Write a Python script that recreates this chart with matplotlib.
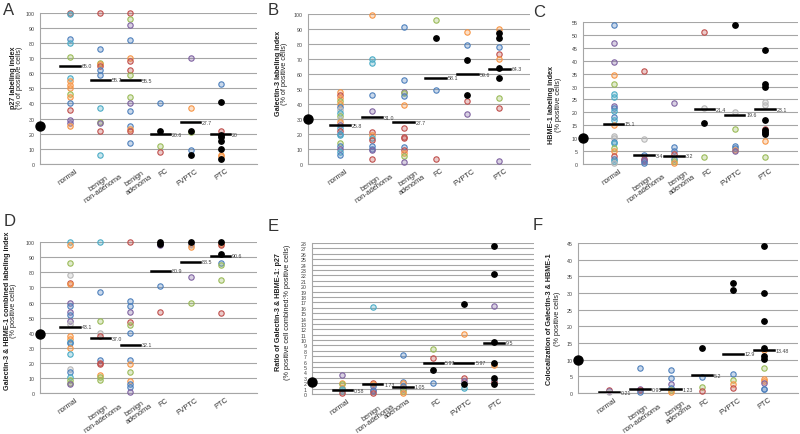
import matplotlib
matplotlib.use("Agg")
import matplotlib.pyplot as plt
import matplotlib.transforms as mtransforms
from matplotlib.colors import to_rgba

plt.rcParams['font.family'] = ['Liberation Sans', 'DejaVu Sans']

# colour codes used in the per-category colour strings
PALETTE = {"b": "#4F81BD", "r": "#C0504D", "g": "#9BBB59", "p": "#8064A2",
           "c": "#4BACC6", "o": "#F79646", "y": "#B8B8B8", "k": "#000000"}

CATS = ["normal", "benign\nnon-adenoma", "benign\nadenoma", "FC", "FVPTC", "PTC"]
CATS_E = ["normal", "benign\nnon-adenoma", "adenoma", "FC", "FVPTC", "PTC"]

# panel A: p27
A_VALUES = [[100, 99, 83, 80, 71, 57, 55, 52, 50, 46, 44, 40, 36, 29, 27, 25],
            [100, 76, 67, 66, 65, 62, 59, 37, 28, 27, 22, 6],
            [100, 96, 92, 82, 70, 68, 62, 59, 44, 40, 35, 25, 23, 22, 14],
            [40, 22, 12, 8],
            [70, 37, 22, 21, 9, 6],
            [53, 41, 22, 19, 18, 15, 10, 6, 5, 3]]
A_COLORS = ["rcbcgcooogobrppo", "rbgorbbcgprc", "rgpborrggpbborb", "bkgr", "pokgbk", "bkrkkkkook"]
A_MEANS = [65.0, 55.7, 55.5, 19.5, 27.7, 19.5]
A_LABELS = ["65.0", "55.7", "55.5", "20.6", "27.7", "20"]
A_REF = 25

# panel B: Galectin-3
B_VALUES = [[48, 46, 44, 42, 40, 38, 36, 34, 32, 30, 28, 26, 24, 22, 20, 19, 14, 12, 10, 8, 6],
            [99, 70, 67, 46, 35, 21, 19, 17, 16, 12, 10, 9, 3],
            [91, 56, 48, 47, 45, 39, 24, 18, 17, 11, 9, 7, 5, 1],
            [96, 84, 49, 3],
            [88, 79, 69, 46, 42, 33],
            [90, 87, 84, 78, 73, 70, 64, 57, 44, 37, 2]]
B_COLORS = ["orogobycgyopcrbcgbpcb", "occbprocrbbpr", "bbpgborrrbrogp", "gkbr", "obkkrp", "okkbrokkgrp"]
B_MEANS = [25.8, 31.0, 27.7, 57.5, 59.6, 63.5]
B_LABELS = ["25.8", "31.0", "27.7", "58.1", "59.6", "64.3"]
B_REF = 30

# panel C: HBME-1
C_VALUES = [[54, 47, 39.5, 34.5, 31, 27, 26, 22.5, 21.5, 20.5, 18, 17, 15, 11, 10, 8.5, 8, 6, 5, 3, 2, 1, 0.5],
            [36, 9.5, 3.5, 2, 1.5, 1, 0.5],
            [23.5, 6.5, 5, 4, 2, 1, 0.5],
            [51, 21.5, 16, 2.5],
            [54, 20, 13.5, 7, 6, 5.5, 5],
            [44, 31, 30, 24, 23, 17, 13.5, 13, 12.5, 12, 11.5, 9, 2.5]]
C_COLORS = ["bppogccpbcbcoyybcgorbcy", "rybrppb", "pbbrbgo", "rykg", "kygbbop", "kkkyykrkkbkog"]
C_MEANS = [15.6, 3.4, 3.2, 21.2, 19.0, 21.2]
C_LABELS = ["15.1", "3.4", "3.2", "21.4", "19.6", "23.1"]
C_REF = 10

# panel D: Galectin-3 & HBME-1 combined
D_VALUES = [[100, 98, 86, 78, 73, 72, 60, 58, 54, 52, 48, 46, 38, 36, 34, 33, 30, 26, 16, 14, 11, 9, 7, 6],
            [100, 67, 48, 40, 38, 22, 20, 19, 12, 11, 9],
            [100, 61, 58, 54, 47, 45, 40, 22, 19, 14, 8, 6, 4, 1],
            [100, 99, 98, 71, 54],
            [100, 99, 98, 97, 77, 60],
            [100, 99, 98, 92, 86, 85, 75, 53]]
D_COLORS = ["cogyropbpbpyoocbocybcggpb", "cbgyrbrrogg", "rbbprgbbogobbp", "kkpbr", "kpyopg", "korkbggr"]
D_MEANS = [44.0, 36.5, 32.1, 81.0, 87.0, 91.0]
D_LABELS = ["43.1", "37.0", "32.1", "80.9", "88.5", "90.6"]
D_REF = 39

# panel E: ratio combined : p27
E_VALUES = [[3.5, 2, 1.8, 1.2, 1, 0.5, 0.2],
            [16.1, 2, 1.8, 1.5, 0.8, 0.5, 0.2],
            [7.2, 2.3, 2, 1.5, 1, 0.5, 0.2],
            [8.4, 6.6, 4.5, 2],
            [16.6, 11.1, 2.9, 2.5, 1.9, 1.2],
            [27.5, 22.2, 16.3, 9.7, 5.7, 5.3, 2.9, 2.5, 2.3, 1.9]]
E_COLORS = ["pogoccr", "crobpbr", "bbobpgo", "grkb", "korpkc", "kkpkkokbrk"]
E_MEANS = [0.7, 1.85, 1.35, 5.8, 5.8, 9.5]
E_LABELS = ["0.58", "1.73", "1.05", "5.97", "5.97", "9.5"]
E_REF = 2.2

# panel F: colocalization
F_VALUES = [[1, 0.5, 0.2],
            [7.5, 1.3, 0.8, 0.3],
            [7, 4.5, 2.7, 1.5, 0.8, 0.3],
            [13.6, 4.8, 1.8, 0.7],
            [33, 31, 5.6, 4, 2.8, 1.4],
            [44.2, 30, 21.7, 13.5, 13, 11, 10.2, 7.6, 4.2, 3.7, 3, 1.3, 1.1]]
F_COLORS = ["rpy", "bprb", "bbpbgo", "kbgr", "kkbgor", "kkkkokkgoopbb"]
F_MEANS = [0.3, 1.1, 1.1, 5.3, 11.8, 12.8]
F_LABELS = ["0.21", "0.95", "1.23", "5.2", "12.9", "13.48"]
F_REF = 10

panels = [
    # letter, rect, values, colors, means, labels, ref, cats, ymax, step, xmax, ylabels, label x, label y
    ("A", [0.050, 0.621, 0.271, 0.347], A_VALUES, A_COLORS, A_MEANS, A_LABELS, A_REF, CATS, 100, 10, 7.2,
     "p27 labeling index", "(% of positive cells)", (-0.122, -0.094), 0.58),
    ("B", [0.385, 0.621, 0.277, 0.345], B_VALUES, B_COLORS, B_MEANS, B_LABELS, B_REF, CATS, 100, 10, 6.95,
     "Galectin-3 labeling index", "(% of positive cells)", (-0.135, -0.105), 0.61),
    ("C", [0.729, 0.621, 0.269, 0.326], C_VALUES, C_COLORS, C_MEANS, C_LABELS, C_REF, CATS, 55, 5, 7.1,
     "HBME-1 labeling index", "(% positive cells)", (-0.145, -0.115), 0.42),
    ("D", [0.050, 0.094, 0.271, 0.347], D_VALUES, D_COLORS, D_MEANS, D_LABELS, D_REF, CATS, 100, 10, 7.2,
     "Galectin-3 & HBME-1 combined labeling index", "(% positive cells)", (-0.15, -0.12), 0.55),
    ("E", [0.390, 0.092, 0.277, 0.347], E_VALUES, E_COLORS, E_MEANS, E_LABELS, E_REF, CATS_E, 28, 1, 7.3,
     "Ratio of Galectin-3 & HBME-1: p27", "(% positive cell combined:% positive cells)", (-0.15, -0.11), 0.55),
    ("F", [0.7225, 0.094, 0.275, 0.345], F_VALUES, F_COLORS, F_MEANS, F_LABELS, F_REF, CATS, 45, 5, 7.1,
     "Colocalization of Galectin-3 & HBME-1", "(% positive cells)", (-0.13, -0.095), 0.5),
]
letter_pos = {"A": (0.004, 0.993), "B": (0.334, 0.993), "C": (0.666, 0.989),
              "D": (0.004, 0.507), "E": (0.335, 0.497), "F": (0.666, 0.499)}

fig = plt.figure(figsize=(8, 4.35), dpi=100)
grid_col = "#A6A6A6"

for (letter, rect, values, colors, means, labels, ref, cats, ymax, step, xmax,
     ylab1, ylab2, labx, laby) in panels:
    ax = fig.add_axes(rect)
    for i, (vals, cols) in enumerate(zip(values, colors)):
        x = i + 1
        for v, c in zip(vals, cols):
            col = PALETTE[c]
            if c == "k":
                ax.scatter(x, v, s=15, color="black", zorder=4, clip_on=False)
            else:
                ax.scatter(x, v, s=15, facecolor=to_rgba(col, 0.3), edgecolor=col,
                           linewidth=0.8, zorder=3, clip_on=False)
        ax.plot([x - 0.32, x + 0.32], [means[i], means[i]], color="black", lw=1.8, zorder=5)
        ax.text(x + 0.38, means[i], labels[i], fontsize=3.8, va="center", ha="left", color="#404040")
    ax.scatter(0, ref, s=42, color="black", zorder=6, clip_on=False)

    ax.set_xlim(0, xmax)
    ax.set_ylim(0, ymax)
    ax.set_yticks(range(0, ymax + 1, step))
    ax.yaxis.grid(True, color=grid_col, lw=0.8)
    ax.set_axisbelow(True)
    ax.tick_params(axis="y", length=0, labelsize=3.8, labelcolor="#404040", pad=4)
    ax.set_xticks(range(1, 7))
    ax.set_xticklabels(cats, rotation=35, ha="right", rotation_mode="anchor",
                       multialignment="center", fontsize=5.3, linespacing=1.0, color="#333333")
    ax.tick_params(axis="x", length=0, pad=2)
    # shift rotated labels to the right like the spreadsheet layout
    for lab, name in zip(ax.get_xticklabels(), cats):
        dx = 0.15 if "\n" in name else 0.05
        off = mtransforms.ScaledTranslation(dx, 0, fig.dpi_scale_trans)
        lab.set_transform(lab.get_transform() + off)
    for s in ["top", "right"]:
        ax.spines[s].set_visible(False)
    for s in ["left", "bottom"]:
        ax.spines[s].set_color(grid_col)
        ax.spines[s].set_linewidth(0.8)

    ax.text(labx[0], laby, ylab1, transform=ax.transAxes, rotation=90, fontsize=5.2,
            fontweight="bold", ha="center", va="center", color="#222222")
    ax.text(labx[1], laby, ylab2, transform=ax.transAxes, rotation=90, fontsize=5.2,
            ha="center", va="center", color="#222222")
    fx, fy = letter_pos[letter]
    fig.text(fx, fy, letter, fontsize=12, ha="left", va="top", color="#333333")

fig.savefig("out.png", dpi=100)
